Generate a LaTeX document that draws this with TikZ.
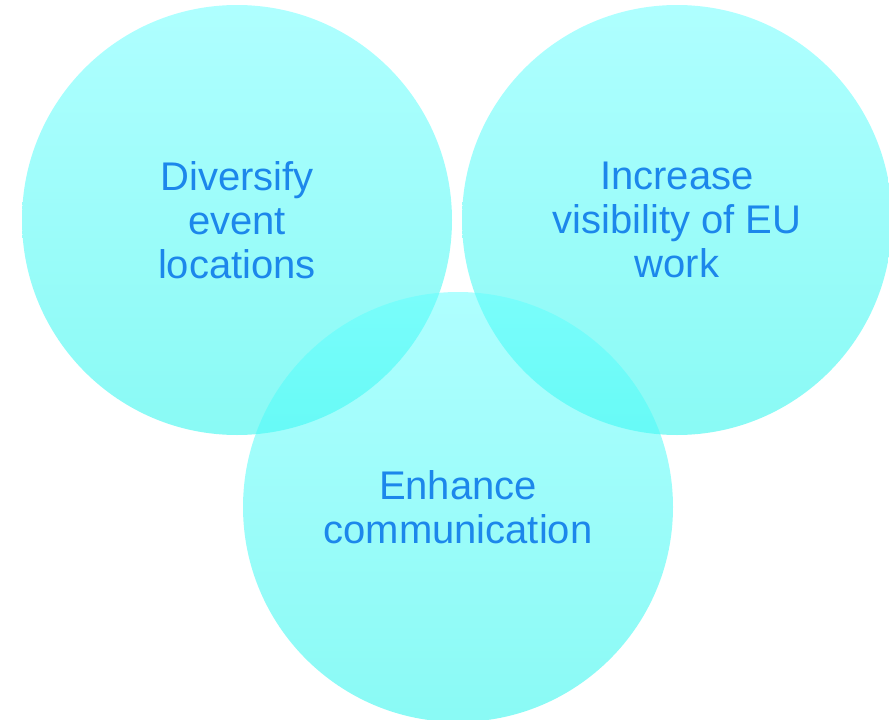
\documentclass[tikz,border=0pt]{standalone}
\usepackage{fontspec}
\setmainfont{Liberation Sans}
\definecolor{ctop}{RGB}{95,255,255}
\definecolor{cbot}{RGB}{20,245,235}
\definecolor{txt}{RGB}{28,135,235}
\begin{document}
\begin{tikzpicture}[x=1pt,y=-1pt,
 bubble/.style={circle, inner sep=0pt, minimum size=430pt, top color=ctop, bottom color=cbot, fill opacity=0.5, text opacity=1, draw=none, text=txt, font=\fontsize{40}{44}\selectfont, align=center}]
\useasboundingbox (0,0) rectangle (889,720);
\node[bubble] (a) at (237,220) {Diversify\\event\\locations};
\node[bubble] (b) at (677,220) {Increase\\visibility of EU\\work};
\node[bubble] (c) at (458,507) {Enhance\\communication};
\end{tikzpicture}
\end{document}
